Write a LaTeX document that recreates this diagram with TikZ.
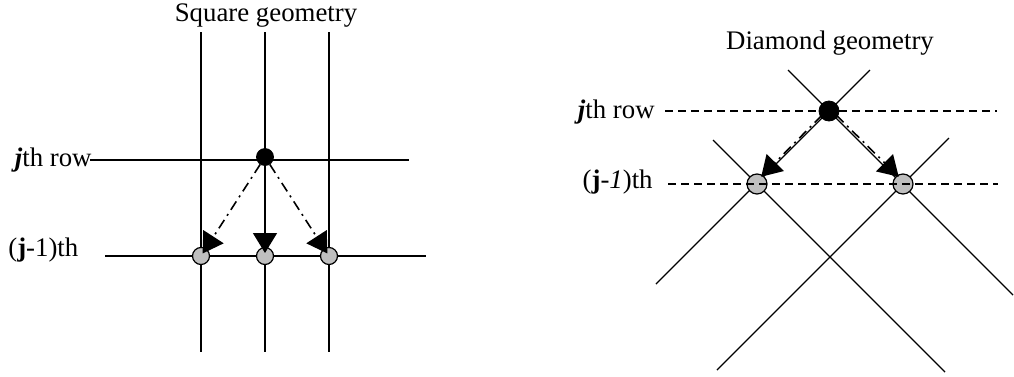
\documentclass[tikz,border=0pt]{standalone}
\usepackage{fontspec}
\setmainfont{Liberation Serif}
\usetikzlibrary{arrows.meta, positioning}

\begin{document}
\begin{tikzpicture}[x=0.5pt, y=-0.5pt, font=\fontsize{13.4}{16}\selectfont,
  gridline/.style={line width=0.7pt},
  rowline/.style={line width=0.7pt, dash pattern=on 4pt off 2.5pt},
  source/.style={circle, fill=black, draw=black, inner sep=0pt, minimum size=#1},
  target/.style={circle, fill=black!25, draw=black, line width=0.6pt, inner sep=0pt, minimum size=#1},
  flow/.style={-{Triangle[length=10pt, width=12pt]}, line width=0.8pt, dash pattern=on 5pt off 2.5pt on 1pt off 2.5pt},
  rowtext/.style={inner sep=0pt}]

  \fill[white] (0,0) rectangle (1014,376);
  \useasboundingbox (0,0) rectangle (1014,376);

  % --- Square geometry ---
  \begin{scope}
    \node[anchor=base] (sqtitle) at (266,21) {Square geometry};

    % linhas da grade
    \foreach \x in {201,265,329}
      \draw[gridline] (\x,32) -- (\x,352);
    \draw[gridline] (90,160) -- (409,160);
    \draw[gridline] (105,256) -- (426,256);

    \node[rowtext, anchor=base east] (sqrow) at (92,166) {\textbf{\textit{j}}th row};
    \node[rowtext, anchor=base west] (sqprev) at (8,256) {(\textbf{j}-1)th};

    % pontos
    \node[source=8.5pt] (sqtop) at (265,157) {};
    \foreach \x/\n in {201/sqa, 265/sqb, 329/sqc}
      \node[target=8.5pt] (\n) at (\x,256) {};

    \foreach \n in {sqa, sqb, sqc}
      \draw[flow, shorten >=1.5pt] (sqtop) -- (\n.center);
  \end{scope}

  % --- Diamond geometry ---
  \begin{scope}
    \node[anchor=base] (dmtitle) at (830,49) {Diamond geometry};

    % diagonais
    \draw[gridline] (870,70) -- (656,284);
    \draw[gridline] (788,70) -- (1013,295);
    \draw[gridline] (713,140) -- (945,372);
    \draw[gridline] (949,138) -- (717,370);

    \node[rowtext, anchor=base east] (dmrow) at (655,118) {\textbf{\textit{j}}th row};
    \node[rowtext, anchor=base east] (dmprev) at (653,188) {(\textbf{j}-\textit{1})th};

    % pontos
    \node[source=10pt] (dmtop) at (829,111) {};
    \node[target=10pt] (dma) at (757,184) {};
    \node[target=10pt] (dmb) at (903,184) {};

    % linhas tracejadas por cima
    \draw[rowline] (665,111) -- (dmtop.west);
    \draw[rowline] (dmtop.east) -- (997,111);
    \draw[rowline] (668,184) -- (998,184);

    \draw[flow, shorten >=3pt, transform canvas={yshift=1.5pt}] (dmtop) -- (dma.center);
    \draw[flow, shorten >=3pt, transform canvas={yshift=1.5pt}] (dmtop) -- (dmb.center);
  \end{scope}

\end{tikzpicture}
\end{document}
